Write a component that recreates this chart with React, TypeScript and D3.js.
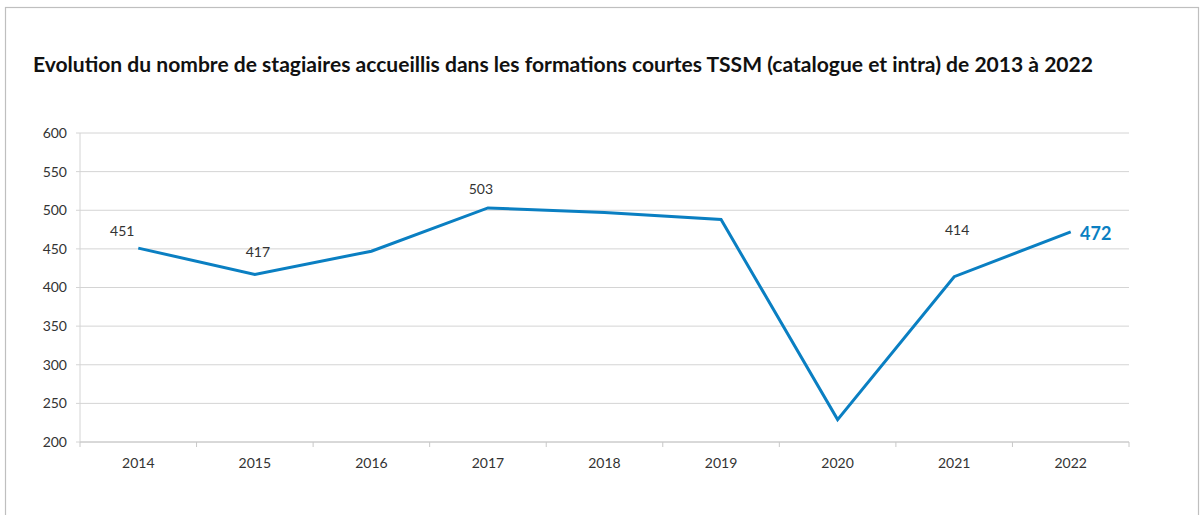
import React from 'react';
import * as d3 from 'd3';

const years = ['2014', '2015', '2016', '2017', '2018', '2019', '2020', '2021', '2022'];
const stagiaires = [451, 417, 447, 503, 497, 488, 229, 414, 472];
const yTicks = [200, 250, 300, 350, 400, 450, 500, 550, 600];

// labels shown on the chart (index, offset from point)
const labelled = [
  { i: 0, dx: -16, dy: -17, main: false },
  { i: 1, dx: 3, dy: -22, main: false },
  { i: 3, dx: -7, dy: -19, main: false },
  { i: 7, dx: 3, dy: -47, main: false },
  { i: 8, dx: 25, dy: 2, main: true },
];

const W = 1202;
const H = 515;
const margin = { top: 133, right: 73, bottom: 73, left: 80 };
const font = 'Lato, "Open Sans", sans-serif';
const blue = '#0a7fc2';

const App = () => {
  const x = d3.scaleBand<string>()
    .domain(years)
    .range([margin.left, W - margin.right])
    .padding(0);
  const y = d3.scaleLinear()
    .domain([200, 600])
    .range([H - margin.bottom, margin.top]);

  const cx = (d: string) => (x(d) as number) + x.bandwidth() / 2;

  const line = d3.line<number>()
    .x((_, i) => cx(years[i]))
    .y(d => y(d));

  const x0 = margin.left;
  const x1 = W - margin.right;
  const yBase = y(200);

  return (
    <svg width={W} height={H} style={{ display: 'block', position: 'absolute', left: 0, top: 0 }}>
      <rect x={0} y={0} width={W} height={H} fill="#fff" />
      <rect x={5.5} y={7.5} width={1193} height={H} fill="none" stroke="#bfbfbf" strokeWidth={1.2} />

      <text x={33} y={72} fontFamily={font} fontWeight={700} fontSize={20.5} fill="#111"
        textLength={1060} lengthAdjust="spacingAndGlyphs">
        Evolution du nombre de stagiaires accueillis dans les formations courtes TSSM (catalogue et intra) de 2013 à 2022
      </text>

      {/* grid */}
      {yTicks.map(t => (
        <g key={t}>
          <line x1={x0 - 4} x2={x1} y1={y(t)} y2={y(t)} stroke="#d4d4d4" strokeWidth={1} />
          <text x={67} y={y(t)} dy="0.35em" textAnchor="end" fontFamily={font} fontSize={14} fill="#333">
            {t}
          </text>
        </g>
      ))}

      {/* y axis */}
      <line x1={x0} x2={x0} y1={margin.top} y2={yBase} stroke="#d4d4d4" strokeWidth={1} />
      {/* x axis */}
      <line x1={x0} x2={x1} y1={yBase} y2={yBase} stroke="#c8c8c8" strokeWidth={1} />
      {years.map(d => (
        <line key={'t' + d} x1={x(d) as number} x2={x(d) as number} y1={yBase} y2={yBase + 5} stroke="#c8c8c8" />
      ))}
      <line x1={x1} x2={x1} y1={yBase} y2={yBase + 5} stroke="#c8c8c8" />
      {years.map(d => (
        <text key={d} x={cx(d)} y={yBase + 21} dy="0.35em" textAnchor="middle" fontFamily={font} fontSize={14} fill="#333">
          {d}
        </text>
      ))}

      <path d={line(stagiaires) || ''} fill="none" stroke={blue} strokeWidth={3} strokeLinejoin="miter" />

      {labelled.map(l => (
        <text
          key={l.i}
          x={cx(years[l.i]) + l.dx}
          y={y(stagiaires[l.i]) + l.dy}
          dy="0.35em"
          textAnchor="middle"
          fontFamily={font}
          fontSize={l.main ? 18 : 14}
          fontWeight={l.main ? 700 : 400}
          fill={l.main ? blue : '#333'}
        >
          {stagiaires[l.i]}
        </text>
      ))}
    </svg>
  );
};

export default App;
